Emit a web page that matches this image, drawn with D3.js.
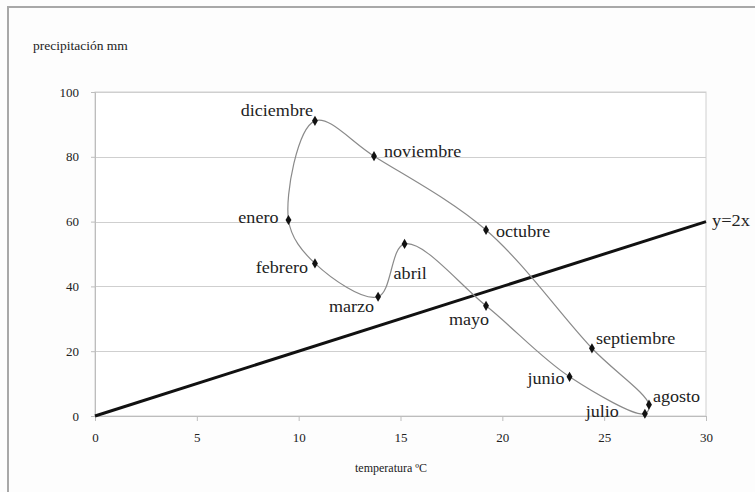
<!DOCTYPE html>
<html>
<head>
<meta charset="utf-8">
<script src="https://cdn.jsdelivr.net/npm/d3@7"></script>
<style>
  html, body { margin: 0; padding: 0; background: #fdfdfd; }
  svg { display: block; }
  svg text { font-family: "Liberation Serif", "DejaVu Serif", "Noto Serif", Times, serif; fill: #222; }
</style>
</head>
<body>
<svg id="chart" width="755" height="492"></svg>
<script>
// ---- data ----
const months = ["enero","febrero","marzo","abril","mayo","junio","julio","agosto","septiembre","octubre","noviembre","diciembre"];
const temperatura = [9.5, 10.8, 13.9, 15.2, 19.2, 23.3, 27.0, 27.2, 24.4, 19.2, 13.7, 10.8];
const precipitacion = [60.5, 47.1, 36.8, 53.1, 34.0, 12.1, 0.7, 3.5, 20.9, 57.4, 80.2, 91.1];
const xTicks = [0, 5, 10, 15, 20, 25, 30];
const yTicks = [0, 20, 40, 60, 80, 100];
const refLineX = [0, 30];           // y = 2x
const refLineY = refLineX.map(x => 2 * x);
const refLabel = "y=2x";
const xTitle = "temperatura ºC";
const yTitle = "precipitación mm";

// ---- label layout (anchor, dx, dy) ----
const labelLayout = [
  ["end", -10, 3], ["end", -7, 10], ["end", -4, 15], ["start", -11, 35],
  ["end", 3, 19], ["end", -5, 7], ["end", -26, 3], ["start", 4, -3],
  ["start", 4, -4], ["start", 10, 7], ["start", 10, 1], ["end", -2, -5]
];

const FONT = "'Liberation Serif', 'DejaVu Serif', 'Noto Serif', Times, serif";
const svg = d3.select("#chart");
const x = d3.scaleLinear().domain([0, 30]).range([95, 706]);
const y = d3.scaleLinear().domain([0, 100]).range([416, 92]);

// outer chart border
svg.append("rect").attr("x", 8).attr("y", 7).attr("width", 760).attr("height", 500)
  .attr("fill", "#fdfdfd").attr("stroke", "#a8a8a8").attr("stroke-width", 2);

// plot area
svg.append("rect").attr("x", x(0)).attr("y", y(100)).attr("width", x(30) - x(0)).attr("height", y(0) - y(100))
  .attr("fill", "#ffffff").attr("stroke", "#d0d0d0").attr("stroke-width", 1);

// horizontal gridlines
svg.append("g").selectAll("line").data(yTicks).join("line")
  .attr("x1", x(0)).attr("x2", x(30))
  .attr("y1", d => Math.round(y(d)) + 0.5).attr("y2", d => Math.round(y(d)) + 0.5)
  .attr("stroke", "#cfcfcf").attr("stroke-width", 1.2);

// axes
const xAxis = d3.axisBottom(x).tickValues(xTicks).tickSize(5).tickPadding(12).tickFormat(d3.format("d"));
const gx = svg.append("g").attr("transform", `translate(0,${y(0)})`).call(xAxis).attr("font-family", FONT);
gx.select(".domain").attr("stroke", "#bdbdbd");
gx.selectAll(".tick line").attr("stroke", "#bdbdbd");
gx.selectAll(".tick text").attr("font-size", 13).attr("fill", "#333").style("font-family", FONT);

const yAxis = d3.axisLeft(y).tickValues(yTicks).tickSize(4).tickPadding(12).tickFormat(d3.format("d"));
const gy = svg.append("g").attr("transform", `translate(${x(0)},0)`).call(yAxis).attr("font-family", FONT);
gy.select(".domain").attr("stroke", "#bdbdbd");
gy.selectAll(".tick line").attr("stroke", "#bdbdbd");
gy.selectAll(".tick text").attr("font-size", 13).attr("fill", "#333").style("font-family", FONT);

// axis titles
svg.append("text").attr("x", 33).attr("y", 50).attr("font-size", 13.5).attr("fill", "#333")
  .style("font-family", FONT).text(yTitle);
svg.append("text").attr("x", 355).attr("y", 472).attr("font-size", 12).attr("fill", "#333")
  .style("font-family", FONT).text(xTitle);

// reference line y = 2x
const refPts = refLineX.map((d, i) => [d, refLineY[i]]);
svg.append("path").datum(refPts)
  .attr("d", d3.line().x(d => x(d[0])).y(d => y(d[1])))
  .attr("fill", "none").attr("stroke", "#111").attr("stroke-width", 3);
svg.append("text").attr("transform", `translate(${x(30) + 6},${y(60) + 4}) scale(1.15,1)`)
  .attr("font-size", 16).style("font-family", FONT).text(refLabel);

// climate loop
const pts = months.map((m, i) => ({ m, t: temperatura[i], p: precipitacion[i], i }));
svg.append("path").datum(pts)
  .attr("d", d3.line().x(d => x(d.t)).y(d => y(d.p)).curve(d3.curveCatmullRomClosed.alpha(0.5)))
  .attr("fill", "none").attr("stroke", "#8a8a8a").attr("stroke-width", 1.2);

// diamond markers
svg.append("g").selectAll("path").data(pts).join("path")
  .attr("transform", d => `translate(${x(d.t)},${y(d.p)})`)
  .attr("d", d3.symbol().type(d3.symbolDiamond).size(30))
  .attr("fill", "#111");

// month labels
svg.append("g").selectAll("text").data(pts).join("text")
  .attr("transform", d => {
    const L = labelLayout[d.i];
    return `translate(${x(d.t) + L[1]},${y(d.p) + L[2]}) scale(1.13,1)`;
  })
  .attr("text-anchor", d => labelLayout[d.i][0])
  .attr("font-size", 16)
  .style("font-family", FONT)
  .text(d => d.m);
</script>
</body>
</html>
